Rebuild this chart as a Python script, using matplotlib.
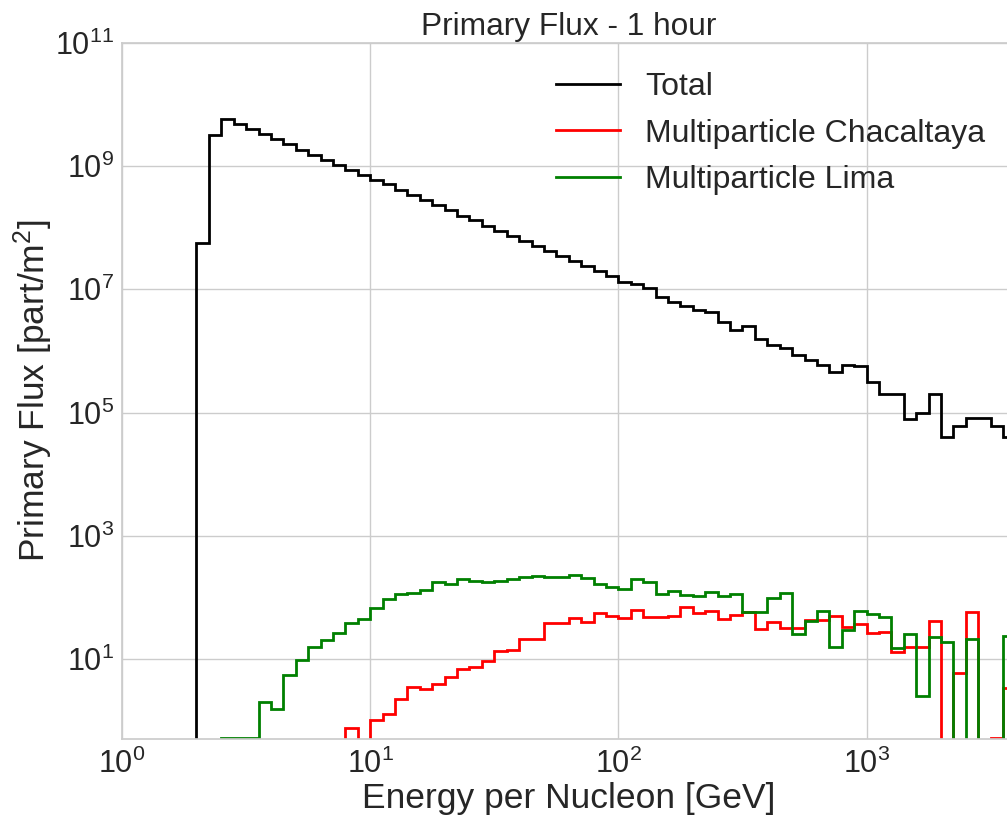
import numpy as np
import matplotlib
matplotlib.use("Agg")
import matplotlib.pyplot as plt

# ---------------- data ----------------
# log-spaced bin edges in energy per nucleon [GeV], 20 bins per decade, 1 .. 10^3.6
energy_edges = np.logspace(0, 3.6, 73)

# Total flux per bin (first 6 bins empty)
total_flux = [0, 0, 0, 0, 0, 0,
              5.62e7, 3.24e9, 5.89e9, 4.90e9, 4.07e9, 3.31e9, 2.75e9, 2.29e9,
              1.86e9, 1.51e9, 1.26e9, 1.05e9, 8.71e8, 7.24e8,
              6.03e8, 5.13e8, 4.17e8, 3.39e8, 2.82e8, 2.34e8, 1.91e8, 1.58e8,
              1.32e8, 1.07e8, 8.91e7, 7.41e7, 6.17e7, 5.13e7, 4.17e7, 3.47e7,
              2.88e7, 2.40e7, 2.00e7, 1.66e7,
              1.33e7, 1.20e7, 1.05e7, 7.59e6, 6.31e6, 5.43e6, 4.57e6, 4.27e6,
              2.95e6, 2.19e6, 2.57e6, 1.57e6, 1.23e6, 1.10e6, 8.51e5, 7.08e5,
              5.89e5, 4.52e5, 5.96e5, 5.62e5,
              3.16e5, 2.00e5, 2.00e5, 7.94e4, 1.00e5, 2.00e5, 3.98e4, 6.03e4,
              8.13e4, 8.13e4, 6.03e4, 3.98e4]

# Multiparticle Chacaltaya (first 18 bins empty)
chacaltaya_flux = [0] * 18 + [
              0.76, 0,
              1.01, 1.25, 2.22, 3.52, 3.26, 3.93, 5.05, 6.81, 7.50, 9.38,
              13.3, 14.0, 20.8, 20.8, 37.9, 38.9, 45.8, 39.9, 55.8, 49.9,
              45.8, 61.8, 47.5, 48.6, 50.5, 69.0, 56.5, 60.8, 44.1, 51.2,
              58.6, 30.7, 39.4, 31.5, 32.3, 42.5, 43.0, 49.9, 33.0, 37.4,
              26.1, 27.7, 13.0, 15.5, 15.5, 40.9, 0, 5.93, 57.3, 0,
              0.52, 3.34]

# Multiparticle Lima (first 8 bins empty)
lima_flux = [0] * 8 + [
              0.52, 0.52, 0.52, 1.98, 1.51, 5.43, 9.53, 15.3, 20.3, 26.7,
              38.4, 44.6,
              66.5, 94.2, 112, 116, 133, 178, 165, 197, 182, 176,
              185, 199, 217, 219, 217, 214, 231, 209, 165, 148,
              138, 197, 174, 114, 127, 107, 105, 122, 103, 114,
              58.6, 57.3, 98.8, 116, 25.8, 40.9, 60.1, 15.8, 29.2, 60.8,
              53.8, 48.6, 14.9, 25.5, 2.51, 22.5, 19.1, 0, 21.1, 0,
              0, 23.6]

series_labels = ["Total", "Multiparticle Chacaltaya", "Multiparticle Lima"]
series_colors = ["black", "red", "green"]
x_ticks = [1e0, 1e1, 1e2, 1e3]
y_ticks = [1e1, 1e3, 1e5, 1e7, 1e9, 1e11]

# ---------------- style ----------------
plt.rcParams.update({
    "font.family": ["Liberation Sans", "DejaVu Sans"],
    "mathtext.fontset": "custom",
    "mathtext.rm": "Liberation Sans",
    "mathtext.it": "Liberation Sans:italic",
    "mathtext.bf": "Liberation Sans:bold",
    "text.color": "#262626",
    "axes.labelcolor": "#262626",
    "xtick.color": "#262626",
    "ytick.color": "#262626",
    "axes.edgecolor": "#cccccc",
    "axes.linewidth": 1.25,
    "grid.color": "#cccccc",
    "grid.linewidth": 1.0,
    "xtick.major.size": 0,
    "ytick.major.size": 0,
    "xtick.minor.size": 0,
    "ytick.minor.size": 0,
    "xtick.major.pad": 7,
    "ytick.major.pad": 5.5,
})

fig = plt.figure(figsize=(10.07, 8.16), dpi=100)
W, H = 1007.0, 816.0
ax = fig.add_axes([122 / W, (H - 739) / H, 893.5 / W, (739 - 43) / H])

for vals, lab, col in zip([total_flux, chacaltaya_flux, lima_flux],
                          series_labels, series_colors):
    v = np.array(vals, dtype=float)
    v[v <= 0] = 1e-4
    ax.stairs(v, energy_edges, color=col, lw=2, label=lab, baseline=None)

ax.set_xscale("log")
ax.set_yscale("log")
ax.set_xlim(1, 10 ** 3.6)
ax.set_ylim(0.5, 1e11)
ax.set_xticks(x_ticks)
ax.set_yticks(y_ticks)
ax.minorticks_off()
ax.tick_params(labelsize=22)
ax.grid(True, which="major")
ax.set_axisbelow(True)

ax.set_title("Primary Flux - 1 hour", fontsize=22.8)
ax.set_xlabel("Energy per Nucleon [GeV]", fontsize=25.5, labelpad=1.5)
ax.set_ylabel("Primary Flux [part/m$^2$]", fontsize=25.5, labelpad=0)

handles = [plt.Line2D([], [], color=c, lw=2) for c in series_colors]
ax.legend(handles, series_labels, loc="upper left",
          bbox_to_anchor=(556 / W, (H - 72) / H), bbox_transform=fig.transFigure,
          frameon=False, fontsize=23.0, borderpad=0, borderaxespad=0,
          handlelength=2.0, handletextpad=0.8, labelspacing=0.52)

fig.savefig("out.png", dpi=100)
